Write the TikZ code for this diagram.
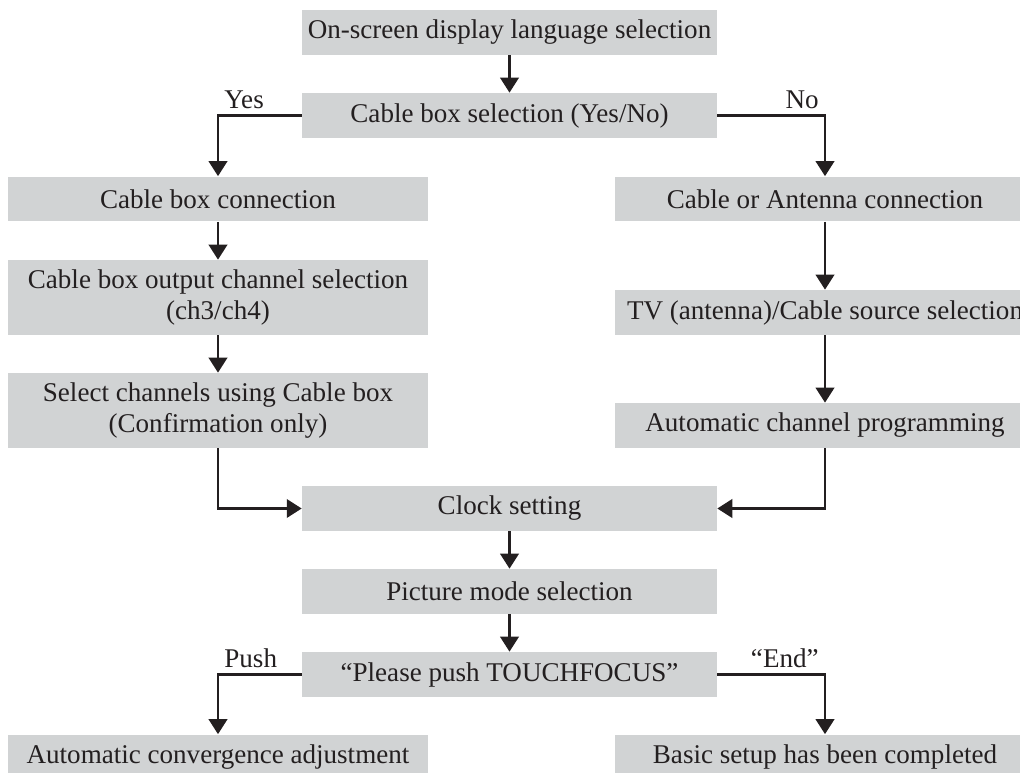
\documentclass[tikz,border=0pt]{standalone}
\usepackage{fontspec}
\setmainfont{Liberation Serif}
\usetikzlibrary{arrows.meta,positioning}
\definecolor{BoxGray}{RGB}{209,211,212}
\definecolor{InkBlack}{RGB}{35,31,32}
\tikzset{
  stepbox/.style={fill=BoxGray,text=InkBlack,minimum width=8.3cm,
    minimum height=0.9cm,inner sep=0pt,align=center,
    font=\fontsize{15.4}{18}\selectfont},
  sidebox/.style={stepbox,minimum width=8.4cm},
  tallbox/.style={sidebox,minimum height=1.5cm},
  arrow/.style={-{Triangle[width=10.5pt,length=8.5pt]},line width=1.3pt,InkBlack},
  answer/.style={font=\fontsize{15.4}{18}\selectfont,text=InkBlack,inner sep=3pt}
}

\begin{document}
\begin{tikzpicture}[x=0.02cm,y=-0.02cm]
  \useasboundingbox (0,0) rectangle (1020,773);

  % centre column, top
  \node[stepbox] (lang) at (509.5,32.5) {On-screen display language selection};
  \node[stepbox] (cablesel) at (509.5,115.5) {Cable box selection (Yes/No)};

  % left branch: cable box
  \node[sidebox] (cbconn) at (218,199) {Cable box connection};
  \node[tallbox] (cbout) at (218,297.5) {Cable box output channel selection\\(ch3/ch4)};
  \node[tallbox] (selch) at (218,410.5) {Select channels using Cable box\\(Confirmation only)};

  % right branch: cable or antenna
  \node[sidebox] (caconn) at (825,199) {Cable or Antenna connection};
  \node[sidebox] (tvsrc) at (825,312.5) {TV (antenna)/Cable source selection};
  \node[sidebox] (autoprog) at (825,425.5) {Automatic channel programming};

  % centre column, bottom
  \node[stepbox] (clock) at (509.5,508.5) {Clock setting};
  \node[stepbox] (picmode) at (509.5,591.5) {Picture mode selection};
  \node[stepbox] (touch) at (509.5,674.5) {“Please push TOUCHFOCUS”};
  \node[sidebox] (autoconv) at (218,757) {Automatic convergence adjustment};
  \node[sidebox] (done) at (825,757) {Basic setup has been completed};

  % connectors
  \draw[arrow] (lang) -- (cablesel);
  \draw[arrow] (cablesel.west) -| node[pos=0.5,answer,above right]{Yes} (cbconn.north);
  \draw[arrow] (cablesel.east) -| node[pos=0.5,answer,above left]{No} (caconn.north);
  \draw[arrow] (cbconn) -- (cbout);
  \draw[arrow] (cbout) -- (selch);
  \draw[arrow] (caconn) -- (tvsrc);
  \draw[arrow] (tvsrc) -- (autoprog);
  \draw[arrow] (selch.south) |- (clock.west);
  \draw[arrow] (autoprog.south) |- (clock.east);
  \draw[arrow] (clock) -- (picmode);
  \draw[arrow] (picmode) -- (touch);
  \draw[arrow] (touch.west) -| node[pos=0.5,answer,above right]{Push} (autoconv.north);
  \draw[arrow] (touch.east) -| node[pos=0.5,answer,above left]{“End”} (done.north);
\end{tikzpicture}
\end{document}
